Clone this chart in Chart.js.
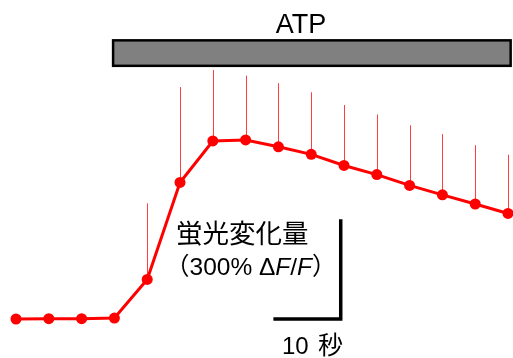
<!DOCTYPE html>
<html>
<head>
<meta charset="utf-8">
<script src="https://cdn.jsdelivr.net/npm/chart.js@4.4.1/dist/chart.umd.min.js"></script>
<style>
  html, body { margin: 0; padding: 0; background: #fff; }
  canvas { display: block; }
</style>
</head>
<body>
<canvas id="trace" width="513" height="358"></canvas>
<script>
// Time points (s) and fluorescence change (% dF/F)
const times = [0, 5, 10, 15, 20, 25, 30, 35, 40, 45, 50, 55, 60, 65, 70, 75];
const meanChange = [0, 1, 1, 3, 121, 418, 545, 548, 527, 504, 470, 442, 409, 380, 352, 323];
const errUpper = [0, 0, 0, 0, 233, 292, 217, 197, 195, 190, 185, 184, 184, 186, 180, 180];

// ATP application window (s) and its label
const atpWindow = [14.8, 75.4];
const atpLabel = "ATP";

// Scale bar: 10 s by 300 % dF/F
const scaleBarTime = [39.5, 49.5];
const scaleBarChange = [0, 300];
const scaleYLabel = "蛍光変化量";
const scaleXLabel = "10 秒";

const RED = "#ff0000";

const overlay = {
  id: "overlay",
  beforeDatasetsDraw(chart) {
    const { ctx, scales: { x, y } } = chart;
    ctx.save();

    // upward error bars
    ctx.strokeStyle = "rgba(255, 0, 0, 0.75)";
    ctx.lineWidth = 1;
    times.forEach((t, i) => {
      if (!errUpper[i]) return;
      const px = Math.round(x.getPixelForValue(t)) + 0.5;
      ctx.beginPath();
      ctx.moveTo(px, y.getPixelForValue(meanChange[i]));
      ctx.lineTo(px, y.getPixelForValue(meanChange[i] + errUpper[i]));
      ctx.stroke();
    });

    // ATP bar
    const bx0 = x.getPixelForValue(atpWindow[0]);
    const bx1 = x.getPixelForValue(atpWindow[1]);
    const by0 = y.getPixelForValue(853);
    const by1 = y.getPixelForValue(775);
    ctx.fillStyle = "#808080";
    ctx.fillRect(bx0, by0, bx1 - bx0, by1 - by0);
    ctx.strokeStyle = "#000";
    ctx.lineWidth = 2.5;
    ctx.strokeRect(bx0, by0, bx1 - bx0, by1 - by0);

    ctx.fillStyle = "#000";
    ctx.font = '27px "Liberation Sans", Arial, sans-serif';
    ctx.textAlign = "center";
    ctx.textBaseline = "alphabetic";
    ctx.fillText(atpLabel, 301, by0 - 7);

    // scale bar
    const sx0 = x.getPixelForValue(scaleBarTime[0]);
    const sx1 = x.getPixelForValue(scaleBarTime[1]);
    const sy0 = y.getPixelForValue(scaleBarChange[0]);
    const sy1 = y.getPixelForValue(scaleBarChange[1]);
    ctx.strokeStyle = "#000";
    ctx.lineWidth = 3.5;
    ctx.lineCap = "square";
    ctx.beginPath();
    ctx.moveTo(sx0, sy0);
    ctx.lineTo(sx1, sy0);
    ctx.lineTo(sx1, sy1);
    ctx.stroke();

    // scale bar labels
    ctx.textAlign = "left";
    ctx.font = '26.5px "Noto Sans CJK JP", sans-serif';
    ctx.fillText(scaleYLabel, 176, 243);
    drawRichLabel(ctx, 165, 275);
    ctx.font = '24px "Liberation Sans", "Noto Sans CJK JP", sans-serif';
    ctx.fillText("10", 282, 354);
    ctx.font = '25px "Noto Sans CJK JP", sans-serif';
    ctx.fillText(scaleXLabel.slice(3), 318, 354);

    ctx.restore();
  }
};

// second label line with italic F
function drawRichLabel(ctx, x0, yBase) {
  const parts = [
    ["（", false],
    ["300% Δ", false],
    ["F", true],
    ["/", false],
    ["F", true],
    ["）", false]
  ];
  let cx = x0;
  parts.forEach(([s, it]) => {
    ctx.font = (it ? "italic " : "") + '24.5px "Liberation Sans", "Noto Sans CJK JP", sans-serif';
    ctx.fillText(s, cx, yBase);
    cx += ctx.measureText(s).width;
  });
}

new Chart(document.getElementById("trace"), {
  type: "line",
  data: {
    labels: times,
    datasets: [{
      data: times.map((t, i) => ({ x: t, y: meanChange[i] })),
      borderColor: RED,
      backgroundColor: RED,
      borderWidth: 3,
      pointRadius: 5.5,
      pointBorderWidth: 0,
      tension: 0,
      clip: false
    }]
  },
  options: {
    responsive: false,
    animation: false,
    layout: { padding: 0, autoPadding: false },
    plugins: { legend: { display: false }, tooltip: { enabled: false } },
    scales: {
      x: { type: "linear", display: false, min: -2.44, max: 75.76 },
      y: { type: "linear", display: false, min: -119.4, max: 976.5 }
    }
  },
  plugins: [overlay]
});
</script>
</body>
</html>
